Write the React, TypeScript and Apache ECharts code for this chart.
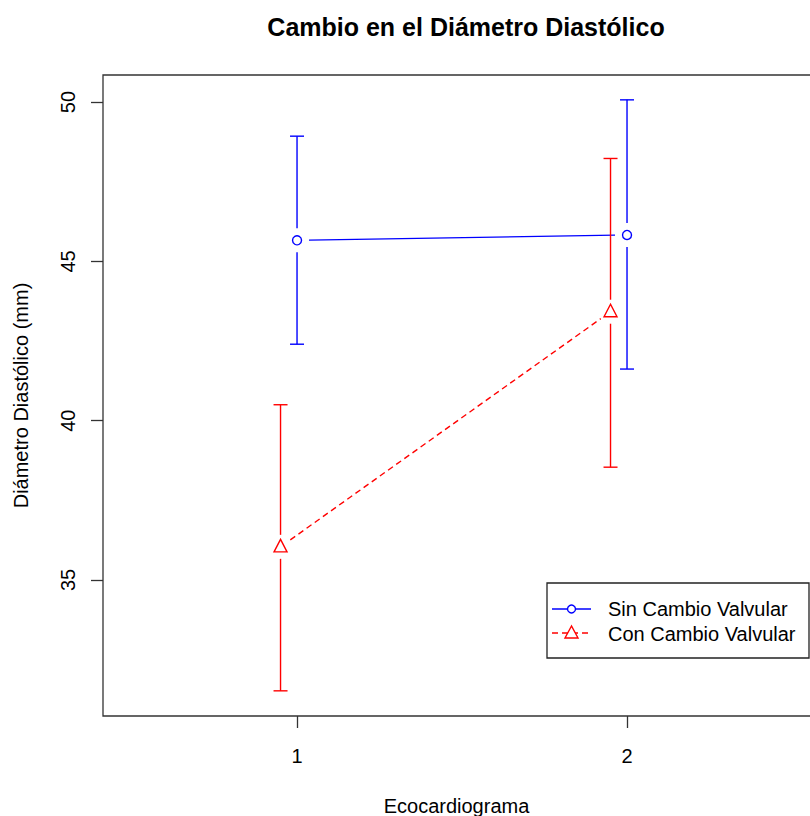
import React, { useEffect, useRef } from "react";
import * as echarts from "echarts";

// ---- data ----
const xTicks = [1, 2];
const yTicks = [35, 40, 45, 50];

const sinX = [1, 2];
const sinMean = [45.66, 45.83];
const sinLower = [42.4, 41.62];
const sinUpper = [48.93, 50.07];

const conX = [0.95, 1.95];
const conMean = [36.04, 43.42];
const conLower = [31.52, 38.54];
const conUpper = [40.5, 48.23];

const seriesNames = ["Sin Cambio Valvular", "Con Cambio Valvular"];

const FONT = "'Liberation Sans', Arial, sans-serif";
const BLUE = "#0000ff";
const RED = "#ff0000";
const GAP = 12;

function pointRows(xs: number[], m: number[], lo: number[], hi: number[]) {
  return xs.map((x, i) => [x, m[i], lo[i], hi[i]]);
}
function segRows(xs: number[], m: number[]) {
  const rows: number[][] = [];
  for (let i = 0; i < xs.length - 1; i++) rows.push([xs[i], m[i], xs[i + 1], m[i + 1]]);
  return rows;
}

function markerShape(kind: string, cx: number, cy: number, color: string) {
  if (kind === "circle") {
    return {
      type: "circle",
      shape: { cx, cy, r: 4.5 },
      style: { fill: "none", stroke: color, lineWidth: 1.4 },
    };
  }
  return {
    type: "polygon",
    shape: {
      points: [
        [cx, cy - 7.5],
        [cx - 6.5, cy + 5],
        [cx + 6.5, cy + 5],
      ],
    },
    style: { fill: "none", stroke: color, lineWidth: 1.4 },
  };
}

function errorSeries(name: string, rows: number[][], color: string, kind: string) {
  return {
    name,
    type: "custom",
    data: rows,
    encode: { x: 0, y: [1, 2, 3] },
    renderItem: (params: any, api: any) => {
      const x = api.value(0);
      const pm = api.coord([x, api.value(1)]);
      const plo = api.coord([x, api.value(2)]);
      const phi = api.coord([x, api.value(3)]);
      const ls = { stroke: color, lineWidth: 1.4 };
      const cap = 7;
      return {
        type: "group",
        children: [
          { type: "line", shape: { x1: pm[0], y1: pm[1] - GAP, x2: pm[0], y2: phi[1] }, style: ls },
          { type: "line", shape: { x1: pm[0], y1: pm[1] + GAP, x2: pm[0], y2: plo[1] }, style: ls },
          { type: "line", shape: { x1: pm[0] - cap, y1: phi[1], x2: pm[0] + cap, y2: phi[1] }, style: ls },
          { type: "line", shape: { x1: pm[0] - cap, y1: plo[1], x2: pm[0] + cap, y2: plo[1] }, style: ls },
          markerShape(kind, pm[0], pm[1], color),
        ],
      };
    },
  };
}

function segmentSeries(name: string, rows: number[][], color: string, dashed: boolean) {
  return {
    name,
    type: "custom",
    data: rows,
    encode: { x: [0, 2], y: [1, 3] },
    renderItem: (params: any, api: any) => {
      const p1 = api.coord([api.value(0), api.value(1)]);
      const p2 = api.coord([api.value(2), api.value(3)]);
      const dx = p2[0] - p1[0];
      const dy = p2[1] - p1[1];
      const len = Math.sqrt(dx * dx + dy * dy);
      const ux = dx / len;
      const uy = dy / len;
      return {
        type: "line",
        shape: {
          x1: p1[0] + ux * GAP,
          y1: p1[1] + uy * GAP,
          x2: p2[0] - ux * GAP,
          y2: p2[1] - uy * GAP,
        },
        style: {
          stroke: color,
          lineWidth: 1.4,
          lineDash: dashed ? [6, 4] : null,
        },
      };
    },
  };
}

export default function App() {
  const ref = useRef<HTMLDivElement>(null);

  useEffect(() => {
    if (!ref.current) return;
    const chart = echarts.init(ref.current, null, { renderer: "svg" });

    const lgX = 547;
    const lgY = 583;
    const graphics = [
      // plot frame (right side lies outside the picture)
      {
        type: "polyline",
        shape: {
          points: [
            [812, 75],
            [103, 75],
            [103, 716],
            [812, 716],
          ],
        },
        style: { fill: "none", stroke: "#333", lineWidth: 1.3 },
        z: 5,
      },
      {
        type: "rect",
        shape: { x: lgX, y: lgY, width: 262, height: 75 },
        style: { fill: "#fff", stroke: "#222", lineWidth: 1.3 },
        z: 10,
      },
      {
        type: "line",
        shape: { x1: 552, y1: 609, x2: 591, y2: 609 },
        style: { stroke: BLUE, lineWidth: 1.4 },
        z: 11,
      },
      {
        type: "circle",
        shape: { cx: 571.5, cy: 609, r: 4 },
        style: { fill: "#fff", stroke: BLUE, lineWidth: 1.4 },
        z: 12,
      },
      {
        type: "line",
        shape: { x1: 552, y1: 633, x2: 591, y2: 633 },
        style: { stroke: RED, lineWidth: 1.4, lineDash: [6, 4] },
        z: 11,
      },
      {
        type: "polygon",
        shape: {
          points: [
            [571.5, 626],
            [565, 638],
            [578, 638],
          ],
        },
        style: { fill: "#fff", stroke: RED, lineWidth: 1.4 },
        z: 12,
      },
      {
        type: "text",
        x: 608,
        y: 609,
        style: {
          text: seriesNames[0],
          font: `20px ${FONT}`,
          fill: "#000",
          verticalAlign: "middle",
        },
        z: 12,
      },
      {
        type: "text",
        x: 608,
        y: 634,
        style: {
          text: seriesNames[1],
          font: `20px ${FONT}`,
          fill: "#000",
          verticalAlign: "middle",
        },
        z: 12,
      },
    ];

    chart.setOption({
      animation: false,
      backgroundColor: "#fff",
      textStyle: { fontFamily: FONT },
      title: {
        text: "Cambio en el Diámetro Diastólico",
        left: 461,
        top: 9,
        textAlign: "center",
        textStyle: { fontFamily: FONT, fontSize: 25, fontWeight: "bold", color: "#000" },
      },
      grid: {
        left: 103,
        top: 75,
        width: 707,
        height: 641,
        show: false,
        outerBoundsMode: "none",
        containLabel: false,
      },
      xAxis: {
        type: "value",
        min: 0.412,
        max: 2.5545,
        name: "Ecocardiograma",
        nameLocation: "middle",
        nameGap: 80,
        nameTextStyle: { fontFamily: FONT, fontSize: 20, color: "#000" },
        axisLine: { show: false },
        splitLine: { show: false },
        axisTick: { show: true, length: 12, customValues: xTicks, lineStyle: { color: "#333", width: 1.3 } },
        axisLabel: {
          customValues: xTicks,
          fontFamily: FONT,
          fontSize: 20,
          color: "#000",
          margin: 30,
        },
      },
      yAxis: {
        type: "value",
        min: 30.73,
        max: 50.85,
        name: "Diámetro Diastólico (mm)",
        nameLocation: "middle",
        nameGap: 72,
        nameTextStyle: { fontFamily: FONT, fontSize: 20, color: "#000" },
        axisLine: { show: false },
        splitLine: { show: false },
        axisTick: { show: true, length: 12, customValues: yTicks, lineStyle: { color: "#333", width: 1.3 } },
        axisLabel: {
          customValues: yTicks,
          rotate: 90,
          fontFamily: FONT,
          fontSize: 20,
          color: "#000",
          margin: 25,
        },
      },
      series: [
        segmentSeries(seriesNames[0], segRows(sinX, sinMean), BLUE, false),
        errorSeries(seriesNames[0], pointRows(sinX, sinMean, sinLower, sinUpper), BLUE, "circle"),
        segmentSeries(seriesNames[1], segRows(conX, conMean), RED, true),
        errorSeries(seriesNames[1], pointRows(conX, conMean, conLower, conUpper), RED, "triangle"),
      ],
      graphic: graphics,
    });

    return () => chart.dispose();
  }, []);

  return (
    <div
      ref={ref}
      style={{ position: "absolute", left: 0, top: 0, width: 810, height: 816 }}
    />
  );
}
